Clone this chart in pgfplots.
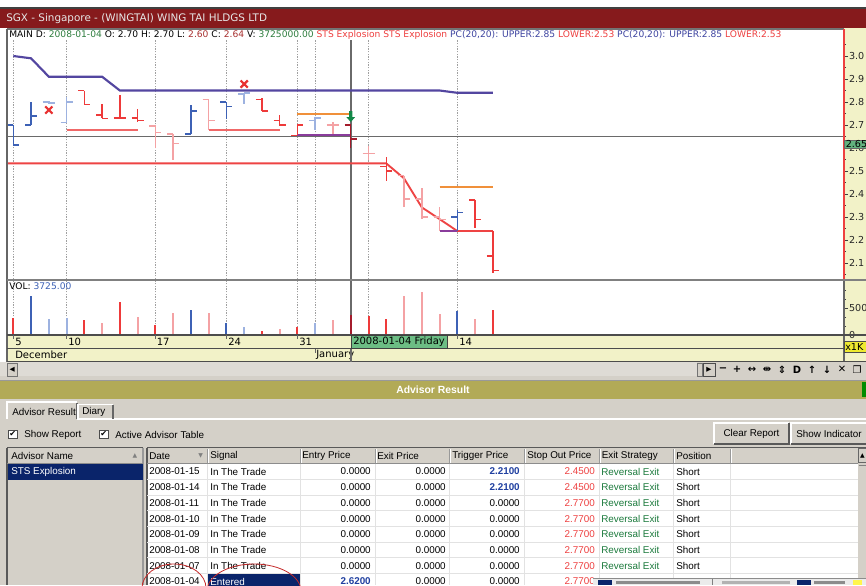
\documentclass[border=0pt]{standalone}
\usepackage{fontspec}
\setmainfont{DejaVu Sans}
\newfontfamily\tf{Liberation Sans}
\usepackage{pgfplots}
\usepackage{pgfplotstable}
\pgfplotsset{compat=1.18}

\definecolor{titlered}{HTML}{861A1C}
\definecolor{titletext}{HTML}{E6E6E6}
\definecolor{panelgray}{HTML}{D4D0C8}
\definecolor{stripy}{HTML}{F2F2C8}
\definecolor{olive}{HTML}{B2AA57}
\definecolor{navy}{HTML}{0A246A}
\definecolor{dgreen}{HTML}{6CBD84}
\definecolor{pgreen}{HTML}{62B27E}
\definecolor{hgreen}{HTML}{2E7D3E}
\definecolor{hred}{HTML}{A8302F}
\definecolor{sred}{HTML}{EE4040}
\definecolor{hblue}{HTML}{3E44A0}
\definecolor{upc}{HTML}{5346A0}
\definecolor{lowc}{HTML}{EE4444}
\definecolor{segred}{HTML}{F06868}
\definecolor{orng}{HTML}{F0903A}
\definecolor{purp}{HTML}{8A3C9C}
\definecolor{bluD}{HTML}{3D61B5}
\definecolor{bluL}{HTML}{9DB2E0}
\definecolor{redD}{HTML}{EE3A3A}
\definecolor{redL}{HTML}{F4A2A4}
\definecolor{redX}{HTML}{A41C2C}
\definecolor{xred}{HTML}{E83232}
\definecolor{arrg}{HTML}{128848}
\definecolor{cross}{HTML}{6A6A6A}
\definecolor{gridc}{HTML}{A0A0A0}
\definecolor{tblue}{HTML}{1F3FA0}
\definecolor{rgreen}{HTML}{1B7A3C}
\definecolor{scrollc}{HTML}{DEDBD5}
\definecolor{tline}{HTML}{E2E2E2}
\definecolor{xyell}{HTML}{EEEA30}

% ---------- price data (OHLC) by colour class ----------
\pgfplotstableread{
i o h l c
0 2.70 2.70 2.613 2.613
1 2.70 2.80 2.70 2.74
10 2.66 2.787 2.66 2.76
12 2.80 2.80 2.725 2.78
25 2.30 2.33 2.239 2.32
}\ohlcBD
\pgfplotstableread{
i o h l c
2 2.80 2.805 2.79 2.795
3 2.71 2.82 2.71 2.80
13 2.835 2.84 2.79 2.84
17 2.72 2.735 2.678 2.73
}\ohlcBL
\pgfplotstableread{
i o h l c
4 2.85 2.85 2.79 2.79
5 2.743 2.79 2.729 2.729
6 2.73 2.83 2.73 2.73
7 2.73 2.768 2.714 2.72
14 2.81 2.816 2.761 2.761
15 2.72 2.743 2.696 2.70
16 2.655 2.70 2.655 2.70
21 2.52 2.562 2.457 2.50
26 2.374 2.374 2.25 2.29
27 2.13 2.239 2.055 2.067
}\ohlcRD
\pgfplotstableread{
i o h l c
8 2.696 2.70 2.60 2.667
9 2.66 2.66 2.548 2.62
11 2.81 2.813 2.68 2.72
18 2.70 2.715 2.66 2.70
20 2.575 2.61 2.55 2.575
22 2.48 2.48 2.342 2.378
23 2.378 2.425 2.291 2.30
24 2.30 2.342 2.239 2.29
}\ohlcRL
\pgfplotstableread{
i o h l c
19 2.70 2.70 2.60 2.64
}\ohlcRX

% ---------- volume data (thousands) ----------
\pgfplotstableread{
i v
0 3093
4 2778
6 6167
8 1852
14 741
16 1537
20 3519
21 2907
27 4630
}\volRD
\pgfplotstableread{
i v
5 2278
7 3389
9 4019
11 4019
15 1056
18 2778
22 7222
23 7907
24 3889
26 2907
}\volRL
\pgfplotstableread{
i v
1 7222
10 4630
12 2167
25 4444
}\volBD
\pgfplotstableread{
i v
2 2907
3 3093
13 1537
17 2167
}\volBL
\pgfplotstableread{
i v
19 3725
}\volRX

\pgfdeclareplotmark{otick}{\pgfpathmoveto{\pgfqpoint{-4.5pt}{0pt}}\pgfpathlineto{\pgfqpoint{0pt}{0pt}}\pgfusepathqstroke}
\pgfdeclareplotmark{ctick}{\pgfpathmoveto{\pgfqpoint{0pt}{0pt}}\pgfpathlineto{\pgfqpoint{4.5pt}{0pt}}\pgfusepathqstroke}
\pgfdeclareplotmark{darrow}{%
 \pgfpathmoveto{\pgfqpoint{0pt}{0pt}}\pgfpathlineto{\pgfqpoint{-3.2pt}{3.6pt}}\pgfpathlineto{\pgfqpoint{-1.2pt}{3.6pt}}%
 \pgfpathlineto{\pgfqpoint{-1.2pt}{8.2pt}}\pgfpathlineto{\pgfqpoint{1.2pt}{8.2pt}}\pgfpathlineto{\pgfqpoint{1.2pt}{3.6pt}}%
 \pgfpathlineto{\pgfqpoint{3.2pt}{3.6pt}}\pgfpathclose\pgfusepathqfill}

\newcommand{\ohlc}[2]{%
 \addplot[color=#1, only marks, mark=otick, mark options={line width=1.1pt},
   error bars/.cd, y dir=both, y explicit, error mark=none,
   error bar style={line width=1.1pt, color=#1}]
   table[x=i, y=o, y error plus expr=\thisrow{h}-\thisrow{o}, y error minus expr=\thisrow{o}-\thisrow{l}] {#2};
 \addplot[color=#1, only marks, mark=ctick, mark options={line width=1.1pt}] table[x=i, y=c] {#2};
}

\pgfplotsset{chartax/.style={scale only axis, width=627.75pt, xmin=-0.3547, xmax=46.774,
  axis line style={draw=none}, xtick={0,3,8,12,16,17,20,25}, xticklabels={},
  xtick style={draw=none}, xmajorgrids,
  grid style={gridc, dash pattern=on 1pt off 1pt, line width=0.5pt},
  ytick pos=right, yticklabel pos=right, tick align=outside,
  major tick length=3pt, minor tick length=1.6pt,
  every tick/.style={black!75, line width=0.5pt},
  yticklabel style={font=\fontsize{7.2pt}{8pt}\selectfont, text=black!85, inner sep=0.6pt},
  /pgf/number format/assume math mode=true}}

\newcommand\chf{\fontsize{6.85pt}{8pt}\selectfont}
\newcommand\dlf{\fontsize{7.5pt}{8pt}\selectfont}
\tikzset{tl/.style={font=\tf\fontsize{7.4pt}{8pt}\selectfont, inner sep=0pt}}

\newcommand\trow[7]{%
 \node[tl, anchor=west] at (149,#1) {#2};
 \node[tl, anchor=west] at (210,#1) {#3};
 \node[tl, anchor=east] at (371,#1) {#4};
 \node[tl, anchor=east] at (446,#1) {#5};
 \node[tl, anchor=east] at (520,#1) {#6};
 \node[tl, anchor=east, text=sred] at (595,#1) {#7};
 \node[tl, anchor=west, text=rgreen] at (601,#1) {Reversal Exit};
 \node[tl, anchor=west] at (676,#1) {Short};
}

\begin{document}
\begin{tikzpicture}[x=0.75pt,y=-0.75pt]
\useasboundingbox (0,0) rectangle (866,585);
\fill[white] (0,0) rectangle (866,585);
% ---- title bar ----
\fill[black!75] (0,7) rectangle (866,9);
\fill[titlered] (0,9) rectangle (866,28);
\node[anchor=west, inner sep=0pt, text=titletext, font=\fontsize{7.8pt}{9pt}\selectfont] at (6,18.5) {SGX - Singapore - (WINGTAI) WING TAI HLDGS LTD};
% ---- right price strip ----
\fill[stripy] (844,28) rectangle (866,362);
% ---- date strip ----
\fill[stripy] (7,335) rectangle (844,361);

% ================= price panel =================
\begin{axis}[chartax, at={(5.25pt,-30pt)}, anchor=north west, height=179.25pt,
  ymin=2.0304, ymax=3.0696, unbounded coords=jump,
  ytick={2.1,2.2,2.3,2.4,2.5,2.6,2.7,2.8,2.9,3.0},
  minor ytick={2.05,2.15,2.25,2.35,2.45,2.55,2.65,2.75,2.85,2.95,3.05},
  yticklabel style={/pgf/number format/fixed, /pgf/number format/fixed zerofill, /pgf/number format/precision=1}]
\addplot[cross, line width=1pt] coordinates {(-1,2.65) (48,2.65)};
\addplot[cross, line width=1.3pt] coordinates {(19,2.0) (19,3.2)};
% PC upper / lower
\addplot[upc, line width=1.6pt] coordinates {(0,3.00) (1,2.99) (2,2.91) (3,2.91) (4,2.91) (5,2.91) (6,2.85) (7,2.85) (8,2.85) (9,2.85) (10,2.85) (11,2.85) (12,2.85) (13,2.85) (14,2.85) (15,2.85) (16,2.85) (17,2.85) (18,2.85) (19,2.85) (20,2.85) (21,2.85) (22,2.85) (23,2.85) (24,2.85) (25,2.84) (26,2.84) (27,2.84)};
\addplot[lowc, line width=1.4pt] coordinates {(-1,2.533) (0,2.533) (5,2.533) (10,2.533) (15,2.533) (19,2.533) (21,2.533) (22,2.468) (23,2.342) (24,2.291) (25,2.239) (26,2.239) (27,2.239)};
% STS segments
\addplot[segred, line width=1.5pt] coordinates {(3,2.68) (7,2.68) (nan,nan) (11,2.68) (15,2.68)};
\addplot[orng, line width=1.5pt] coordinates {(16,2.75) (19,2.75) (nan,nan) (24,2.43) (27,2.43)};
\addplot[purp, line width=1.5pt] coordinates {(16,2.655) (19,2.655) (nan,nan) (24,2.239) (25,2.239)};
% OHLC bars
\ohlc{bluD}{\ohlcBD}
\ohlc{bluL}{\ohlcBL}
\ohlc{redD}{\ohlcRD}
\ohlc{redL}{\ohlcRL}
\ohlc{redX}{\ohlcRX}
% signals
\addplot[only marks, mark=x, mark size=3.8pt, xred, mark options={line width=1.6pt}] coordinates {(2,2.765) (13,2.878)};
\addplot[only marks, mark=darrow, arrg] coordinates {(19,2.713)};
\end{axis}

% ================= volume panel =================
\begin{axis}[chartax, at={(5.25pt,-210pt)}, anchor=north west, height=41.25pt,
  ymin=0, ymax=10185, ytick={0,5000}, minor ytick={1667,3333,6667,8333},
  scaled y ticks=false, yticklabel style={/pgf/number format/1000 sep={}}]
\addplot[cross, line width=1.3pt] coordinates {(19,0) (19,11000)};
\addplot[ycomb, redD, line width=1.5pt, mark=none] table[x=i,y=v] {\volRD};
\addplot[ycomb, redL, line width=1.5pt, mark=none] table[x=i,y=v] {\volRL};
\addplot[ycomb, bluD, line width=1.5pt, mark=none] table[x=i,y=v] {\volBD};
\addplot[ycomb, bluL, line width=1.5pt, mark=none] table[x=i,y=v] {\volBL};
\addplot[ycomb, redX, line width=1.5pt, mark=none] table[x=i,y=v] {\volRX};
\end{axis}

% ---- header text (price panel) ----
\node[anchor=west, inner sep=0pt, font=\chf] at (9,34.5) {MAIN D: \textcolor{hgreen}{2008-01-04} O: 2.70 H: 2.70 L: \textcolor{hred}{2.60} C: \textcolor{hred}{2.64} V: \textcolor{hgreen}{3725000.00} \textcolor{sred}{STS Explosion STS Explosion} \textcolor{hblue}{PC(20,20): UPPER:2.85} \textcolor{sred}{LOWER:2.53} \textcolor{hblue}{PC(20,20): UPPER:2.85} \textcolor{sred}{LOWER:2.53}};
\node[anchor=west, inner sep=0pt, font=\chf] at (9,286) {VOL: \textcolor{bluD}{3725.00}};

% ---- panel frames ----
\draw[black!55, line width=0.8pt] (7,29) -- (844,29);
\draw[black!60, line width=1pt] (7,29) -- (7,376);
\draw[sred, line width=1pt] (844,29) -- (844,279);
\draw[black!60, line width=1pt] (844,279) -- (844,362);
\draw[black!50, line width=1.5pt] (7,279.5) -- (866,279.5);
\draw[black!70, line width=0.8pt] (7,335) -- (866,335);
\draw[black!70, line width=0.8pt] (7,348.5) -- (844,348.5);
\draw[black!70, line width=0.8pt] (7,361.5) -- (866,361.5);
% price marker box
\filldraw[fill=pgreen, draw=black!60, line width=0.5pt] (844,140) rectangle (866,148.5);
\node[anchor=west, inner sep=0pt, font=\fontsize{7.2pt}{8pt}\selectfont] at (845.5,144.3) {2.65};
% x1K box
\filldraw[fill=xyell, draw=black!70, line width=0.5pt] (844,341) rectangle (866,352);
\node[anchor=west, inner sep=0pt, font=\fontsize{7.2pt}{8pt}\selectfont] at (845,346.5) {x1K};

% ---- date strip labels ----
\foreach \xx in {13.3,66.6,155.4,226.4,297.4,457.3} {\draw[black!60] (\xx,335) -- (\xx,339);}
\draw[black!60] (315.2,349) -- (315.2,353);
\node[anchor=west, inner sep=0pt, font=\dlf] at (15,342) {5};
\node[anchor=west, inner sep=0pt, font=\dlf] at (68,342) {10};
\node[anchor=west, inner sep=0pt, font=\dlf] at (156.5,342) {17};
\node[anchor=west, inner sep=0pt, font=\dlf] at (228,342) {24};
\node[anchor=west, inner sep=0pt, font=\dlf] at (299,342) {31};
\node[anchor=west, inner sep=0pt, font=\dlf] at (459,342) {14};
\filldraw[fill=dgreen, draw=black!75, line width=0.6pt] (351.5,335.5) rectangle (447,348.5);
\node[anchor=west, inner sep=0pt, font=\dlf] at (353,342) {2008-01-04 Friday};
\node[anchor=west, inner sep=0pt, font=\dlf] at (15,355) {December};
\node[anchor=west, inner sep=0pt, font=\dlf] at (316,355) {January};
\draw[cross, line width=1.2pt] (350.8,348.5) -- (350.8,361.5);

% ---- scroll row ----
\fill[scrollc] (0,362) rectangle (866,381);
\fill[panelgray] (0,376) rectangle (866,381);
\filldraw[fill=panelgray, draw=black!55, line width=0.5pt] (7.5,363) rectangle (17,376);
\node[inner sep=0pt, font=\fontsize{5pt}{6pt}\selectfont] at (12.3,369.5) {◀};
\fill[panelgray] (697,362) rectangle (866,376);
\filldraw[fill=panelgray, draw=black!55, line width=0.5pt] (697,363) rectangle (702,376);
\filldraw[fill=panelgray, draw=black!70, line width=0.5pt] (703,363) rectangle (715,376);
\node[inner sep=0pt, font=\fontsize{5pt}{6pt}\selectfont] at (709,369.5) {▶};
\foreach \xx/\ss in {723/−,737/+,752/↔,767/⇹,782/⇕,797/D,812/↑,827/↓,842/✕,857/❐}
  {\node[inner sep=0pt, font=\fontsize{7.5pt}{8pt}\selectfont\bfseries] at (\xx,369.5) {\ss};}

% ---- advisor result bar ----
\fill[olive] (0,381) rectangle (866,399);
\fill[black!40] (0,380) rectangle (866,381);
\fill[green!55!black] (862,382) rectangle (866,397);
\node[inner sep=0pt, text=white, font=\tf\bfseries\fontsize{7.8pt}{9pt}\selectfont] at (433,390) {Advisor Result};

% ---- lower panel ----
\fill[panelgray] (0,399) rectangle (866,585);
\draw[white, line width=0.8pt] (77,419) -- (866,419);
\draw[white, line width=0.8pt] (7,419) -- (7,402) -- (77,402);
\draw[black!60, line width=0.8pt] (77,403) -- (77,419);
\draw[white, line width=0.8pt] (78,419) -- (78,404.5) -- (113,404.5);
\draw[black!60, line width=0.8pt] (113,405) -- (113,419);
\node[tl, anchor=west] at (12,411.5) {Advisor Result};
\node[tl, anchor=west] at (82,412) {Diary};
% checkboxes
\filldraw[fill=white, draw=black!70, line width=0.6pt] (8.5,430) rectangle (17,438.5);
\node[inner sep=0pt, font=\fontsize{6pt}{7pt}\selectfont] at (12.8,434.2) {✔};
\node[tl, anchor=west] at (24,434.5) {Show Report};
\filldraw[fill=white, draw=black!70, line width=0.6pt] (99.5,430) rectangle (108,438.5);
\node[inner sep=0pt, font=\fontsize{6pt}{7pt}\selectfont] at (103.8,434.2) {✔};
\node[tl, anchor=west] at (115,434.5) {Active Advisor Table};
% buttons
\fill[panelgray] (714,423) rectangle (789,444);
\draw[white, line width=0.8pt] (714,444) -- (714,423) -- (789,423);
\draw[black!65, line width=0.8pt] (714,444) -- (789,444) -- (789,423);
\node[tl] at (751.5,433.5) {Clear Report};
\fill[panelgray] (791,423) rectangle (866,444);
\draw[white, line width=0.8pt] (791,444) -- (791,423) -- (866,423);
\draw[black!65, line width=0.8pt] (791,444) -- (866,444);
\node[tl] at (829,433.5) {Show Indicator};

% left list
\draw[black!65, line width=0.8pt] (7,447.5) -- (143,447.5);
\draw[black!65, line width=0.8pt] (7,447.5) -- (7,585);
\draw[black!40, line width=0.8pt] (143,447.5) -- (143,585);
\draw[black!45, line width=0.6pt] (7,463.5) -- (143,463.5);
\node[tl, anchor=west] at (11,455.5) {Advisor Name};
\node[inner sep=0pt, text=black!50, font=\fontsize{4.5pt}{5pt}\selectfont] at (135,455.5) {▲};
\fill[navy] (7.5,464) rectangle (142.5,479.5);
\node[tl, anchor=west, text=white] at (11,471.5) {STS Explosion};

% table
\fill[white] (147,463.6) rectangle (858,585);
\draw[black!65, line width=0.8pt] (147,447.5) -- (866,447.5);
\draw[black!65, line width=0.8pt] (147,447.5) -- (147,585);
\draw[black!45, line width=0.6pt] (147,463.6) -- (858,463.6);
\foreach \k in {1,...,7} {\draw[tline, line width=0.7pt] (147,{463.6+15.72*\k}) -- (858,{463.6+15.72*\k});}
\foreach \cx in {207.3,300,375,449.3,524,599,673.3,730.7} {
  \draw[tline, line width=0.7pt] (\cx,463.6) -- (\cx,585);
  \draw[black!40, line width=0.6pt] (\cx,449) -- (\cx,463);
  \draw[white, line width=0.6pt] (\cx+0.9,449) -- (\cx+0.9,463);}
\node[tl, anchor=west] at (149,455.7) {Date};
\node[inner sep=0pt, text=black!50, font=\fontsize{4.5pt}{5pt}\selectfont] at (200.7,455.7) {▼};
\node[tl, anchor=west] at (210,455.7) {Signal};
\node[tl, anchor=west] at (302,455.7) {Entry Price};
\node[tl, anchor=west] at (377,455.7) {Exit Price};
\node[tl, anchor=west] at (452,455.7) {Trigger Price};
\node[tl, anchor=west] at (527,455.7) {Stop Out Price};
\node[tl, anchor=west] at (601.5,455.7) {Exit Strategy};
\node[tl, anchor=west] at (676,455.7) {Position};
% table scrollbar
\fill[panelgray] (858,448) rectangle (866,585);
\filldraw[fill=panelgray, draw=black!60, line width=0.5pt] (858.5,448.5) rectangle (866,462.5);
\node[inner sep=0pt, font=\fontsize{4.5pt}{5pt}\selectfont] at (862.5,455.5) {▲};
\draw[black!50, line width=0.5pt] (858.5,465) -- (866,465);

\trow{471.5}{2008-01-15}{In The Trade}{0.0000}{0.0000}{\textbf{\textcolor{tblue}{2.2100}}}{2.4500}
\trow{487.2}{2008-01-14}{In The Trade}{0.0000}{0.0000}{\textbf{\textcolor{tblue}{2.2100}}}{2.4500}
\trow{502.9}{2008-01-11}{In The Trade}{0.0000}{0.0000}{0.0000}{2.7700}
\trow{518.6}{2008-01-10}{In The Trade}{0.0000}{0.0000}{0.0000}{2.7700}
\trow{534.4}{2008-01-09}{In The Trade}{0.0000}{0.0000}{0.0000}{2.7700}
\trow{550.1}{2008-01-08}{In The Trade}{0.0000}{0.0000}{0.0000}{2.7700}
\trow{565.8}{2008-01-07}{In The Trade}{0.0000}{0.0000}{0.0000}{2.7700}
\fill[navy] (208,574.3) rectangle (300,586);
\node[tl, anchor=west] at (149,581.5) {2008-01-04};
\node[tl, anchor=west, text=white] at (210,581.5) {Entered};
\node[tl, anchor=east] at (371,581.5) {\textbf{\textcolor{tblue}{2.6200}}};
\node[tl, anchor=east] at (446,581.5) {0.0000};
\node[tl, anchor=east] at (520,581.5) {0.0000};
\node[tl, anchor=east, text=sred] at (595,581.5) {2.7700};
% taskbar overlay
\fill[black!8] (593,578.5) rectangle (866,585);
\draw[black!45, line width=0.5pt] (593,578.5) -- (866,578.5);
\fill[navy] (598,580) rectangle (612,585);
\fill[black!45] (616,581) rectangle (700,584);
\draw[black!50] (712,579) -- (712,585);
\fill[black!30] (722,581) rectangle (790,584);
\fill[navy] (797,580) rectangle (811,585);
\fill[black!45] (814,581) rectangle (845,584);
\fill[yellow!70] (853,580) rectangle (862,585);
% annotation ellipses
\draw[xred!85!black, line width=0.6pt] (174,588) ellipse [x radius=32, y radius=24];
\draw[xred!85!black, line width=0.6pt] (254,591) ellipse [x radius=47, y radius=27];
\end{tikzpicture}
\end{document}
